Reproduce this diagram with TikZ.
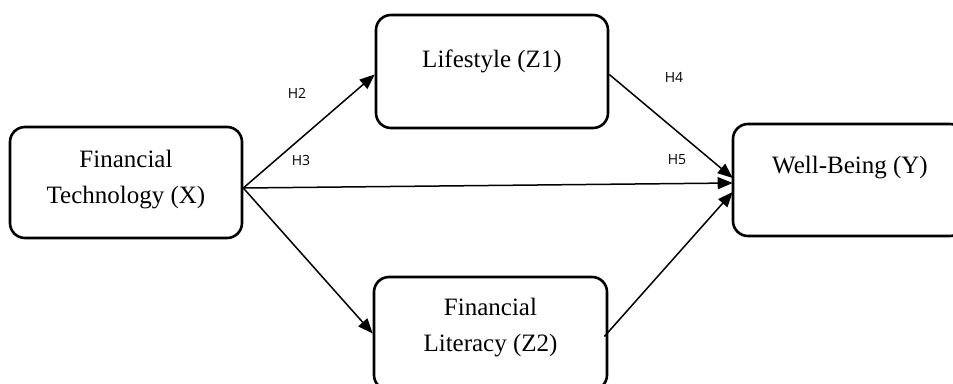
\documentclass[tikz,border=0pt]{standalone}
\usepackage{fontspec}
\setmainfont{Liberation Serif}
\newfontfamily\hfont{Open Sans}
\usetikzlibrary{arrows.meta,calc}
\begin{document}
\begin{tikzpicture}[x=1pt,y=-1pt,
  box/.style={draw=black,line width=2.6pt,rounded corners=15pt,fill=white,inner sep=0pt},
  btext/.style={font=\fontsize{25}{36}\selectfont,align=center,inner sep=0pt},
  hyp/.style={font=\hfont\fontsize{14}{16}\selectfont,inner sep=0pt},
  conn/.style={line width=1.5pt,-{Triangle[length=15pt,width=12pt]}},
  plain/.style={line width=1.5pt}]
\clip (0,0) rectangle (953,383);
\fill[white] (0,0) rectangle (953,383);
\node[box,minimum width=232pt,minimum height=111pt] (x) at (126,182.5) {};
\node[box,minimum width=232pt,minimum height=113pt] (z1) at (492,71.5) {};
\node[box,minimum width=233pt,minimum height=113pt] (z2) at (490.5,333.5) {};
\node[box,minimum width=232pt,minimum height=112pt] (y) at (849,180) {};
\node[btext] (xt) at (126,180) {Financial\\Technology (X)};
\node[btext] (z1t) at (492,61) {Lifestyle (Z1)};
\node[btext] (z2t) at (490.5,328) {Financial\\Literacy (Z2)};
\node[btext] (yt) at (850,168) {Well-Being (Y)};
\coordinate (xs) at ($(x.east)+(0,5.5)$);
\draw[conn] (xs) -- ($(z1.west)+(0,3)$);
\draw[conn] (xs) -- ($(y.west)+(1,3)$);
\draw[conn] (xs) -- (z2.west);
\draw[conn] ($(z1.east)+(0,3)$) -- ($(y.west)+(1,-2)$);
\draw[conn] ($(z2.east)+(-4,3)$) -- ($(y.west)+(1,12)$);
\node[hyp] (h2) at (297,93) {H2};
\node[hyp] (h3) at (301,160) {H3};
\node[hyp] (h4) at (674,77) {H4};
\node[hyp] (h5) at (677,160) {H5};
\end{tikzpicture}
\end{document}
